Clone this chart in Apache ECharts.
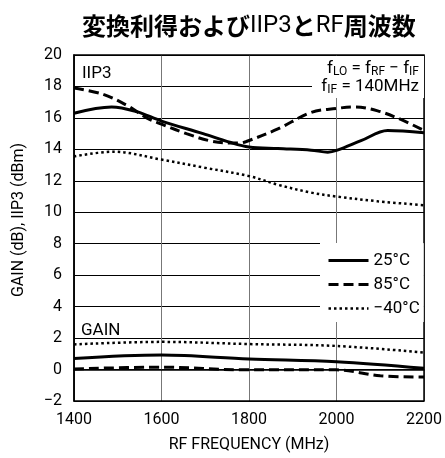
<!DOCTYPE html>
<html>
<head>
<meta charset="utf-8">
<script src="https://cdn.jsdelivr.net/npm/echarts@6/dist/echarts.min.js"></script>
<style>html,body{margin:0;padding:0;background:#fff}#c{width:445px;height:458px}</style>
</head>
<body>
<div id="c"></div>
<script>
// ---- data ----
var xTicks = [1400, 1600, 1800, 2000, 2200];
var yTicks = [-2, 0, 2, 4, 6, 8, 10, 12, 14, 16, 18, 20];

var freqIIP3_25 = [1400, 1486, 1543, 1600, 1695, 1756, 1800, 1866, 1942, 1980, 2002, 2056, 2117, 2200];
var iip3_25     = [16.3, 16.7, 16.4, 15.8, 15.0, 14.45, 14.15, 14.05, 13.95, 13.82, 13.95, 14.55, 15.2, 15.05];

var freqIIP3_85 = [1400, 1467, 1524, 1566, 1600, 1657, 1710, 1756, 1778, 1794, 1866, 1942, 2000, 2040, 2094, 2147, 2200];
var iip3_85     = [17.9, 17.5, 16.75, 16.0, 15.6, 15.0, 14.55, 14.4, 14.4, 14.5, 15.3, 16.35, 16.6, 16.7, 16.45, 15.9, 15.2];

var freqIIP3_m40 = [1400, 1490, 1600, 1695, 1800, 1866, 1942, 2000, 2094, 2200];
var iip3_m40     = [13.55, 13.85, 13.35, 12.85, 12.3, 11.75, 11.25, 11.0, 10.7, 10.45];

var freqGain_25 = [1400, 1600, 1800, 2000, 2200];
var gain_25     = [0.7, 0.92, 0.67, 0.5, 0.08];

var freqGain_85 = [1400, 1600, 1790, 2000, 2100, 2200];
var gain_85     = [0.04, 0.15, -0.02, -0.02, -0.4, -0.48];

var freqGain_m40 = [1400, 1600, 1800, 2000, 2200];
var gain_m40     = [1.6, 1.76, 1.62, 1.5, 1.08];

var seriesNames = ['25°C', '85°C', '−40°C'];

// ---- chart ----
function pairs(xs, ys) { return xs.map(function (x, i) { return [x, ys[i]]; }); }
var FONT = "Roboto, 'Liberation Sans', sans-serif";
var styles = [
  { color: '#000', width: 3, type: 'solid' },
  { color: '#000', width: 3, type: [10, 5] },
  { color: '#000', width: 2.5, type: [2.5, 3] }
];
function mk(name, data, st) {
  return { name: name, type: 'line', data: data, symbol: 'none', showSymbol: false, smooth: 0.35,
    lineStyle: st, itemStyle: { color: '#000' }, z: 3, silent: true };
}

var chart = echarts.init(document.getElementById('c'), null, { renderer: 'canvas' });
chart.setOption({
  animation: false,
  title: {
    text: '{b|変換利得および}{n|IIP3}{b|と}{n|RF}{b|周波数}',
    left: 77, top: 9,
    textStyle: {
      rich: {
        b: { fontFamily: "'Noto Sans CJK JP'", fontWeight: 'bold', fontSize: 24, color: '#000' },
        n: { fontFamily: FONT, fontWeight: 'normal', fontSize: 24, color: '#000' }
      }
    }
  },
  grid: { left: 74, right: 20, top: 55, bottom: 52, show: true, borderColor: '#000', borderWidth: 1.5, z: 2 },
  xAxis: {
    type: 'value', min: xTicks[0], max: xTicks[xTicks.length - 1], interval: 200,
    name: 'RF FREQUENCY (MHz)', nameLocation: 'middle', nameGap: 36,
    nameTextStyle: { fontFamily: FONT, fontSize: 16, color: '#000' },
    axisLine: { show: true, lineStyle: { color: '#000', width: 1.5 } },
    axisTick: { show: false },
    axisLabel: { fontFamily: FONT, fontSize: 16, color: '#000', margin: 11,
      formatter: function (v) { return String(v); } },
    splitLine: { show: true, lineStyle: { color: '#777', width: 1 } }
  },
  yAxis: {
    type: 'value', min: yTicks[0], max: yTicks[yTicks.length - 1], interval: 2,
    name: 'GAIN (dB), IIP3 (dBm)', nameLocation: 'middle', nameGap: 47, nameRotate: 90,
    nameTextStyle: { fontFamily: FONT, fontSize: 16, color: '#000', padding: [0, 0, 0, 16] },
    axisLine: { show: true, lineStyle: { color: '#000', width: 1.5 } },
    axisTick: { show: false },
    axisLabel: { fontFamily: FONT, fontSize: 16, color: '#000', margin: 12,
      formatter: function (v) { return String(v).replace('-', '−'); } },
    splitLine: { show: true, lineStyle: { color: '#000', width: 1 } }
  },
  legend: {
    orient: 'vertical', left: 320, top: 243,
    data: [
      { name: seriesNames[0], lineStyle: { width: 3 } },
      { name: seriesNames[1], lineStyle: { width: 3 } },
      { name: seriesNames[2], lineStyle: { width: 2.5 } }
    ],
    itemWidth: 40, itemHeight: 14, itemGap: 7,
    itemStyle: { opacity: 0 },
    padding: [9, 4, 5, 7],
    backgroundColor: '#fff',
    textStyle: { fontFamily: FONT, fontSize: 17, color: '#000', lineHeight: 14 },
    selectedMode: false, z: 5
  },
  graphic: [
    { type: 'rect', shape: { x: 312, y: 56, width: 112, height: 42 }, style: { fill: '#fff' }, z: 5 },
    { type: 'text', x: 419, y: 60, z: 6,
      style: { text: 'f{s|LO} = f{s|RF} − f{s|IF}\nf{s|IF} = 140MHz', align: 'right',
        font: "17px " + FONT, fill: '#000', lineHeight: 18,
        rich: { s: { fontSize: 12, fontFamily: FONT, verticalAlign: 'bottom', lineHeight: 12, padding: [6, 0, 0, 0] } } } },
    { type: 'text', x: 82, y: 65, z: 6, style: { text: 'IIP3', font: "17px " + FONT, fill: '#000' } },
    { type: 'text', x: 81, y: 322, z: 6, style: { text: 'GAIN', font: "17px " + FONT, fill: '#000' } }
  ],
  series: [
    mk(seriesNames[0], pairs(freqIIP3_25, iip3_25), styles[0]),
    mk(seriesNames[1], pairs(freqIIP3_85, iip3_85), styles[1]),
    mk(seriesNames[2], pairs(freqIIP3_m40, iip3_m40), styles[2]),
    mk(seriesNames[0], pairs(freqGain_25, gain_25), styles[0]),
    mk(seriesNames[1], pairs(freqGain_85, gain_85), styles[1]),
    mk(seriesNames[2], pairs(freqGain_m40, gain_m40), styles[2])
  ]
});
</script>
</body>
</html>
